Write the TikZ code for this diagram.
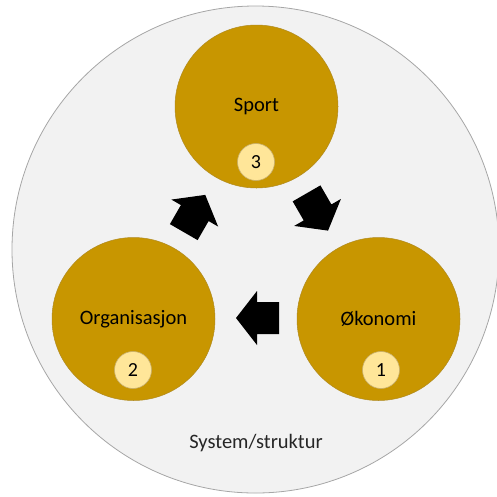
\documentclass[tikz,border=0pt]{standalone}
\usepackage{fontspec}
\setmainfont{Carlito}
\definecolor{bgray}{HTML}{F2F2F2}
\definecolor{bline}{HTML}{A6A6A6}
\definecolor{gold}{HTML}{C89600}
\definecolor{goldline}{HTML}{B08A20}
\definecolor{pale}{HTML}{FFE699}
\definecolor{paleline}{HTML}{C8B070}
\begin{document}
\begin{tikzpicture}[x=1pt,y=-1pt,
  outer/.style={circle,draw=bline,line width=0.8pt,fill=bgray,minimum size=487pt,inner sep=0pt},
  big/.style={circle,draw=goldline,line width=0.5pt,fill=gold,minimum size=163pt,inner sep=0pt,font=\fontsize{20.5}{24}\selectfont},
  badge/.style={circle,draw=paleline,line width=0.6pt,fill=pale,minimum size=37pt,inner sep=0pt,font=\fontsize{20}{24}\selectfont},
  blockarrow/.style={fill=black}]
\useasboundingbox (0,0) rectangle (497,496);
\node[outer] (sys) at (255.5,249.5) {};
\node[big] (sport) at (256.5,106.5) {Sport};
\node[big] (org) at (133.5,319) {Organisasjon};
\node[big] (oko) at (378.5,319) {Økonomi};
\node[badge] (b3) at (256,162) {3};
\node[badge] (b2) at (133,370) {2};
\node[badge] (b1) at (381,370) {1};
\node[font=\fontsize{20.5}{24}\selectfont,text=black!85] (lbl) at (256,443) {System/struktur};
% block arrows (local shape points toward +x)
\foreach \cx/\cy/\ang in {194.5/213.5/60, 317.3/212/-60, 257.5/318/180}{
  \fill[blockarrow,shift={(\cx,\cy)},rotate=\ang]
    (-21.5,-16) -- (0.5,-16) -- (0.5,-27) -- (21.5,0) -- (0.5,27) -- (0.5,16) -- (-21.5,16) -- cycle;
}
\end{tikzpicture}
\end{document}
